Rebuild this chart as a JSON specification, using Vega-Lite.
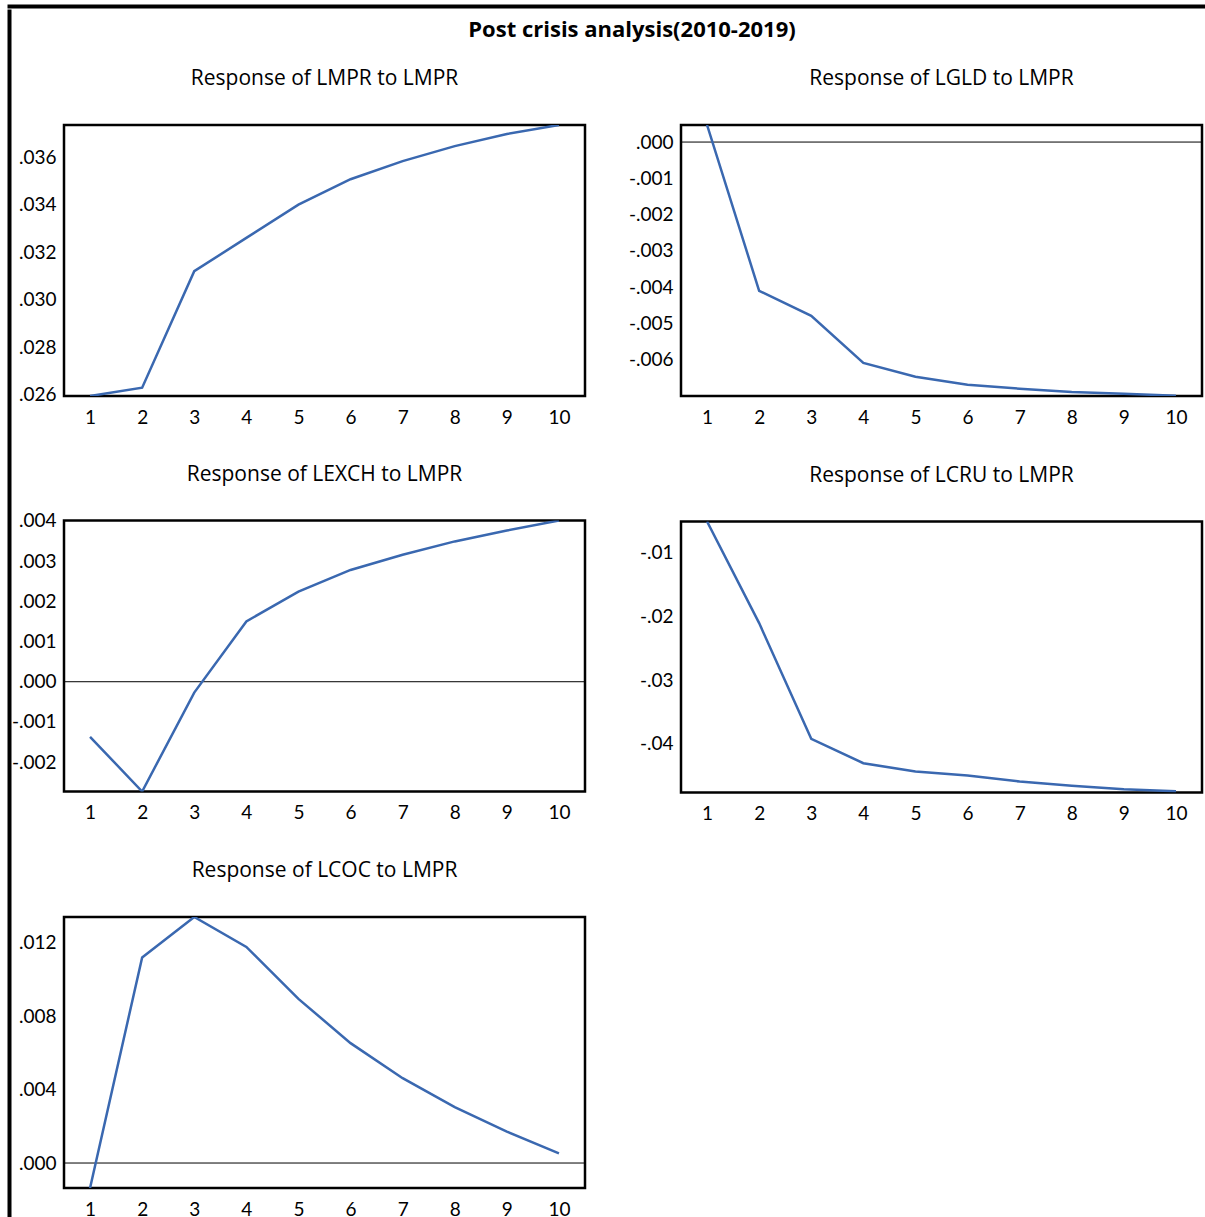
{
  "$schema": "https://vega.github.io/schema/vega-lite/v6.json",
  "padding": {"left": 7, "top": 4, "right": 0, "bottom": 0},
  "background": "white",
  "data": {"values": [
    {"panel": "LMPR", "h": 1, "v": 0.02595}, {"panel": "LMPR", "h": 2, "v": 0.0263}, {"panel": "LMPR", "h": 3, "v": 0.0312}, {"panel": "LMPR", "h": 4, "v": 0.0326}, {"panel": "LMPR", "h": 5, "v": 0.0340}, {"panel": "LMPR", "h": 6, "v": 0.03507}, {"panel": "LMPR", "h": 7, "v": 0.03583}, {"panel": "LMPR", "h": 8, "v": 0.03646}, {"panel": "LMPR", "h": 9, "v": 0.03697}, {"panel": "LMPR", "h": 10, "v": 0.03735},
    {"panel": "LGLD", "h": 1, "v": 0.00047}, {"panel": "LGLD", "h": 2, "v": -0.0041}, {"panel": "LGLD", "h": 3, "v": -0.00479}, {"panel": "LGLD", "h": 4, "v": -0.00609}, {"panel": "LGLD", "h": 5, "v": -0.00647}, {"panel": "LGLD", "h": 6, "v": -0.00669}, {"panel": "LGLD", "h": 7, "v": -0.0068}, {"panel": "LGLD", "h": 8, "v": -0.00689}, {"panel": "LGLD", "h": 9, "v": -0.00694}, {"panel": "LGLD", "h": 10, "v": -0.00699},
    {"panel": "LEXCH", "h": 1, "v": -0.00137}, {"panel": "LEXCH", "h": 2, "v": -0.00273}, {"panel": "LEXCH", "h": 3, "v": -0.00027}, {"panel": "LEXCH", "h": 4, "v": 0.0015}, {"panel": "LEXCH", "h": 5, "v": 0.00224}, {"panel": "LEXCH", "h": 6, "v": 0.00278}, {"panel": "LEXCH", "h": 7, "v": 0.00316}, {"panel": "LEXCH", "h": 8, "v": 0.00349}, {"panel": "LEXCH", "h": 9, "v": 0.00376}, {"panel": "LEXCH", "h": 10, "v": 0.00401},
    {"panel": "LCRU", "h": 1, "v": -0.00508}, {"panel": "LCRU", "h": 2, "v": -0.02104}, {"panel": "LCRU", "h": 3, "v": -0.03922}, {"panel": "LCRU", "h": 4, "v": -0.04305}, {"panel": "LCRU", "h": 5, "v": -0.04436}, {"panel": "LCRU", "h": 6, "v": -0.04499}, {"panel": "LCRU", "h": 7, "v": -0.04593}, {"panel": "LCRU", "h": 8, "v": -0.0466}, {"panel": "LCRU", "h": 9, "v": -0.04713}, {"panel": "LCRU", "h": 10, "v": -0.04745},
    {"panel": "LCOC", "h": 1, "v": -0.00136}, {"panel": "LCOC", "h": 2, "v": 0.0112}, {"panel": "LCOC", "h": 3, "v": 0.0134}, {"panel": "LCOC", "h": 4, "v": 0.01177}, {"panel": "LCOC", "h": 5, "v": 0.00894}, {"panel": "LCOC", "h": 6, "v": 0.00653}, {"panel": "LCOC", "h": 7, "v": 0.00462}, {"panel": "LCOC", "h": 8, "v": 0.00304}, {"panel": "LCOC", "h": 9, "v": 0.00171}, {"panel": "LCOC", "h": 10, "v": 0.00053}
  ]},
  "vconcat": [
    {
      "width": 1195, "height": 1,
      "view": {"stroke": "black", "strokeWidth": 3},
      "data": {"values": []},
      "mark": "rule",
      "encoding": {}
    },
    {
      "hconcat": [
        {
          "width": 1, "height": 1207,
          "view": {"stroke": "black", "strokeWidth": 3},
          "data": {"values": []},
          "mark": "rule",
          "encoding": {}
        },
        {
          "vconcat": [
            {
              "width": 1138, "height": 1,
              "view": {"stroke": null},
              "data": {"values": []},
              "mark": "rule",
              "encoding": {},
              "title": {"text": "Post crisis analysis(2010-2019)", "orient": "bottom", "anchor": "middle", "font": "Open Sans", "fontWeight": "bold", "fontSize": 22, "offset": 7.5, "baseline": "top", "dx": -1, "color": "black"}
            },
            {
              "hconcat": [
                {
                  "vconcat": [
                    {
                      "width": 521, "height": 271,
                      "title": "Response of LMPR to LMPR",
                      "view": {"stroke": "black", "strokeWidth": 2.5},
                      "transform": [{"filter": "datum.panel === 'LMPR'"}],
                      "mark": {"type": "line", "color": "#3a68b0", "strokeWidth": 2.5, "clip": true},
                      "encoding": {
                        "x": {"field": "h", "type": "quantitative", "scale": {"domain": [0.5, 10.5], "nice": false}, "axis": {"values": [1,2,3,4,5,6,7,8,9,10], "labelPadding": 12}},
                        "y": {"field": "v", "type": "quantitative", "scale": {"domain": [0.02595, 0.03735], "nice": false, "zero": false}, "axis": {"values": [0.026, 0.028, 0.030, 0.032, 0.034, 0.036], "format": ".3f", "labelExpr": "replace(replace(datum.label, '\u2212', '-'), '0.', '.')", "labelPadding": 8, "minExtent": 47, "maxExtent": 47}}
                      }
                    },
                    {
                      "width": 521, "height": 271,
                      "title": {"text": "Response of LEXCH to LMPR", "offset": 27},
                      "view": {"stroke": "black", "strokeWidth": 2.5},
                      "layer": [
                        {
                          "data": {"values": [{}]},
                          "mark": {"type": "rule", "color": "black", "strokeWidth": 1},
                          "encoding": {"y": {"datum": 0, "type": "quantitative"}}
                        },
                        {
                          "transform": [{"filter": "datum.panel === 'LEXCH'"}],
                          "mark": {"type": "line", "color": "#3a68b0", "strokeWidth": 2.5, "clip": true},
                          "encoding": {
                            "x": {"field": "h", "type": "quantitative", "scale": {"domain": [0.5, 10.5], "nice": false}, "axis": {"values": [1,2,3,4,5,6,7,8,9,10], "labelPadding": 12}},
                            "y": {"field": "v", "type": "quantitative", "scale": {"domain": [-0.00273, 0.00401], "nice": false, "zero": false}, "axis": {"values": [-0.002, -0.001, 0, 0.001, 0.002, 0.003, 0.004], "format": ".3f", "labelExpr": "replace(replace(datum.label, '\u2212', '-'), '0.', '.')", "labelPadding": 8, "minExtent": 47, "maxExtent": 47}}
                          }
                        }
                      ]
                    },
                    {
                      "width": 521, "height": 271,
                      "title": "Response of LCOC to LMPR",
                      "view": {"stroke": "black", "strokeWidth": 2.5},
                      "layer": [
                        {
                          "data": {"values": [{}]},
                          "mark": {"type": "rule", "color": "black", "strokeWidth": 1},
                          "encoding": {"y": {"datum": 0, "type": "quantitative"}}
                        },
                        {
                          "transform": [{"filter": "datum.panel === 'LCOC'"}],
                          "mark": {"type": "line", "color": "#3a68b0", "strokeWidth": 2.5, "clip": true},
                          "encoding": {
                            "x": {"field": "h", "type": "quantitative", "scale": {"domain": [0.5, 10.5], "nice": false}, "axis": {"values": [1,2,3,4,5,6,7,8,9,10], "labelPadding": 12}},
                            "y": {"field": "v", "type": "quantitative", "scale": {"domain": [-0.00136, 0.0134], "nice": false, "zero": false}, "axis": {"values": [0, 0.004, 0.008, 0.012], "format": ".3f", "labelExpr": "replace(replace(datum.label, '\u2212', '-'), '0.', '.')", "labelPadding": 8, "minExtent": 47, "maxExtent": 47}}
                          }
                        }
                      ]
                    }
                  ],
                  "spacing": 33.5
                },
                {
                  "vconcat": [
                    {
                      "width": 521, "height": 271,
                      "title": "Response of LGLD to LMPR",
                      "view": {"stroke": "black", "strokeWidth": 2.5},
                      "layer": [
                        {
                          "data": {"values": [{}]},
                          "mark": {"type": "rule", "color": "black", "strokeWidth": 1},
                          "encoding": {"y": {"datum": 0, "type": "quantitative"}}
                        },
                        {
                          "transform": [{"filter": "datum.panel === 'LGLD'"}],
                          "mark": {"type": "line", "color": "#3a68b0", "strokeWidth": 2.5, "clip": true},
                          "encoding": {
                            "x": {"field": "h", "type": "quantitative", "scale": {"domain": [0.5, 10.5], "nice": false}, "axis": {"values": [1,2,3,4,5,6,7,8,9,10], "labelPadding": 12}},
                            "y": {"field": "v", "type": "quantitative", "scale": {"domain": [-0.0070, 0.00047], "nice": false, "zero": false}, "axis": {"values": [-0.006, -0.005, -0.004, -0.003, -0.002, -0.001, 0], "format": ".3f", "labelExpr": "replace(replace(datum.label, '\u2212', '-'), '0.', '.')", "labelPadding": 8, "minExtent": 47, "maxExtent": 47}}
                          }
                        }
                      ]
                    },
                    {
                      "width": 521, "height": 271,
                      "title": "Response of LCRU to LMPR",
                      "view": {"stroke": "black", "strokeWidth": 2.5},
                      "transform": [{"filter": "datum.panel === 'LCRU'"}],
                      "mark": {"type": "line", "color": "#3a68b0", "strokeWidth": 2.5, "clip": true},
                      "encoding": {
                        "x": {"field": "h", "type": "quantitative", "scale": {"domain": [0.5, 10.5], "nice": false}, "axis": {"values": [1,2,3,4,5,6,7,8,9,10], "labelPadding": 12}},
                        "y": {"field": "v", "type": "quantitative", "scale": {"domain": [-0.04765, -0.00508], "nice": false, "zero": false}, "axis": {"values": [-0.04, -0.03, -0.02, -0.01], "format": ".2f", "labelExpr": "replace(replace(datum.label, '\u2212', '-'), '0.', '.')", "labelPadding": 8, "minExtent": 47, "maxExtent": 47}}
                      }
                    }
                  ],
                  "spacing": 33.5
                }
              ],
              "spacing": 40
            }
          ],
          "spacing": 25
        }
      ],
      "spacing": -2
    }
  ],
  "spacing": 0,
  "config": {
    "view": {"stroke": null},
    "axis": {"grid": false, "ticks": false, "tickSize": 0, "domain": false, "title": null, "labelFont": "Lato", "labelFontSize": 19, "labelColor": "black"},
    "title": {"font": "Open Sans", "fontSize": 21, "fontWeight": "normal", "color": "black", "offset": 36, "baseline": "alphabetic", "anchor": "middle"}
  }
}
